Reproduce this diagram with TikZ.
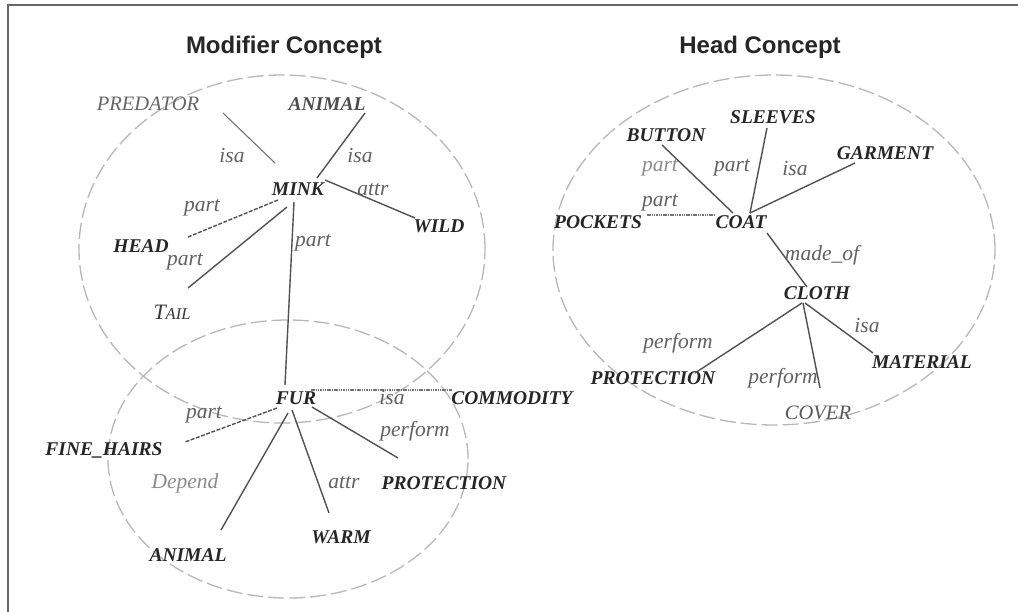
\documentclass[tikz,border=0pt]{standalone}
\usepackage{fontspec}
\setmainfont{Liberation Serif}
\newfontfamily\headfont{Liberation Sans}
\usetikzlibrary{calc}

\tikzset{
  concept/.style={font=\fontsize{19.5}{22}\selectfont\bfseries\itshape, text=black!85, inner sep=1pt},
  softconcept/.style={font=\fontsize{20.5}{22}\selectfont\itshape, text=black!60, inner sep=1pt},
  rel/.style={font=\fontsize{21.5}{23}\selectfont\itshape, text=black!62, inner sep=1pt},
  faintrel/.style={rel, text=black!45},
  link/.style={draw=black!68, line width=1.4pt},
  dashlink/.style={link, dash pattern=on 4pt off 1.5pt},
  dotlink/.style={draw=black!55, line width=1.5pt, dash pattern=on 1.5pt off 0.8pt},
  faintlink/.style={draw=black!55, line width=1.1pt},
  conceptzone/.style={draw=black!28, line width=1.3pt, dash pattern=on 16pt off 5pt},
  title/.style={font=\headfont\bfseries\fontsize{24}{27}\selectfont, text=black!85, inner sep=0pt},
}

\begin{document}
\begin{tikzpicture}[x=1pt, y=-1pt]
  \useasboundingbox (0,0) rectangle (1018,612);
  \fill[white] (0,0) rectangle (1018,612);

  % frame
  \draw[black!60, line width=2.2pt] (8,612) -- (8,5) -- (1018,5);

  % titles
  \node[title] (tmod) at (284,47) {Modifier Concept};
  \node[title] (thead) at (760,47) {Head Concept};

  % concept zones
  \draw[conceptzone] (282,249) ellipse [x radius=203pt, y radius=174pt];
  \draw[conceptzone] (288,459) ellipse [x radius=180pt, y radius=139pt];
  \draw[conceptzone] (774,250) ellipse [x radius=221pt, y radius=175pt];

  % modifier concept: MINK
  \node[softconcept] (predator) at (148,104) {PREDATOR};
  \node[concept, text=black!70] (animalA) at (327,104) {ANIMAL};
  \node[concept] (mink) at (298,189) {MINK};
  \node[concept] (wild) at (439,226) {WILD};
  \node[concept] (head) at (141,246) {HEAD};
  \node[concept, text=black!78, font=\fontsize{22}{24}\selectfont\itshape] (tail) at (172,312) {T{\fontsize{16.5}{18}\selectfont AIL}};

  % modifier concept: FUR
  \node[concept] (fur) at (296,398) {FUR};
  \node[concept] (commodity) at (512,398) {COMMODITY};
  \node[concept] (finehairs) at (104,450) {FINE\_HAIRS};
  \node[concept] (protA) at (444,483) {PROTECTION};
  \node[concept] (warm) at (341,537) {WARM};
  \node[concept] (animalB) at (188,555) {ANIMAL};

  % head concept
  \node[concept] (sleeves) at (773,117) {SLEEVES};
  \node[concept] (button) at (666,135) {BUTTON};
  \node[concept] (garment) at (885,153) {GARMENT};
  \node[concept] (pockets) at (598,222) {POCKETS};
  \node[concept] (coat) at (741,222) {COAT};
  \node[concept] (cloth) at (817,293) {CLOTH};
  \node[concept] (material) at (922,362) {MATERIAL};
  \node[concept] (protB) at (653,378) {PROTECTION};
  \node[softconcept, text=black!65] (cover) at (818,413) {COVER};

  % relations around MINK
  \draw[faintlink] ($(predator)+(75,9)$) -- ($(mink)+(-23,-26)$);
  \draw[link] ($(animalA)+(38,9)$) -- ($(mink)+(19,-11)$);
  \draw[link] ($(mink)+(27,-9)$) -- ($(wild)+(-24,-8)$);
  \draw[dashlink] ($(mink)+(-20,11)$) -- ($(head)+(47,-9)$);
  \draw[link] ($(mink)+(-11,18)$) -- ($(tail)+(16,-24)$);
  \draw[link] ($(mink)+(-4,13)$) -- ($(fur)+(-11,-13)$);

  \node[rel] (l1) at (232,155) {isa};
  \node[rel] (l2) at (360,155) {isa};
  \node[rel] (l3) at (373,190) {attr};
  \node[rel] (l4) at (202,208) {part};
  \node[rel] (l5) at (185,262) {part};
  \node[rel] (l6) at (313,243) {part};

  % relations around FUR
  \draw[dotlink] ($(fur)+(15,-8)$) -- ($(commodity)+(-60,-8)$);
  \draw[dashlink] ($(fur)+(-19,10)$) -- ($(finehairs)+(81,-8)$);
  \draw[link] ($(fur)+(16,9)$) -- ($(protA)+(-46,-25)$);
  \draw[link] ($(fur)+(-4,12)$) -- ($(warm)+(-12,-24)$);
  \draw[link] ($(fur)+(-8,15)$) -- ($(animalB)+(33,-25)$);

  \node[rel] (l7) at (392,397) {isa};
  \node[rel] (l8) at (204,415) {part};
  \node[rel] (l9) at (415,431) {perform};
  \node[rel] (l10) at (344,483) {attr};
  \node[faintrel] (l11) at (185,483) {Depend};

  % relations around COAT and CLOTH
  \draw[link] ($(button)+(-4,10)$) -- ($(coat)+(-8,-9)$);
  \draw[link] ($(sleeves)+(-6,11)$) -- ($(coat)+(9,-9)$);
  \draw[link] ($(garment)+(-30,10)$) -- ($(coat)+(9,-9)$);
  \draw[dotlink] ($(pockets)+(49,-7)$) -- ($(coat)+(-26,-7)$);
  \draw[link] ($(coat)+(26,11)$) -- ($(cloth)+(-10,-6)$);
  \draw[link] ($(cloth)+(-15,10)$) -- ($(protB)+(42,-5)$);
  \draw[link] ($(cloth)+(-14,10)$) -- ($(cover)+(2,-25)$);
  \draw[link] ($(cloth)+(-12,10)$) -- ($(material)+(-49,-9)$);

  \node[faintrel] (l12) at (660,168) {part};
  \node[rel] (l13) at (732,168) {part};
  \node[rel] (l14) at (795,168) {isa};
  \node[rel] (l15) at (660,203) {part};
  \node[rel] (l16) at (822,255) {made\_of};
  \node[rel] (l17) at (867,325) {isa};
  \node[rel] (l18) at (678,343) {perform};
  \node[rel] (l19) at (783,378) {perform};
\end{tikzpicture}
\end{document}
